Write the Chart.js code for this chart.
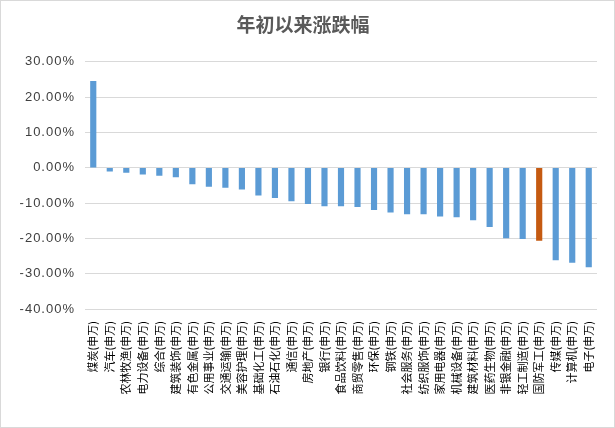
<!DOCTYPE html>
<html>
<head>
<meta charset="utf-8">
<script src="https://cdn.jsdelivr.net/npm/chart.js@4"></script>
<style>
  html, body { margin: 0; padding: 0; background: #fff; }
  #wrap { width: 613px; height: 426px; border: 1px solid #d9d9d9; }
</style>
</head>
<body>
<div id="wrap"><canvas id="ch" width="613" height="426"></canvas></div>
<script>
const titleText = '年初以来涨跌幅';
const industries = ['煤炭','汽车','农林牧渔','电力设备','综合','建筑装饰','有色金属','公用事业','交通运输','美容护理',
  '基础化工','石油石化','通信','房地产','银行','食品饮料','商贸零售','环保','钢铁','社会服务',
  '纺织服饰','家用电器','机械设备','建筑材料','医药生物','非银金融','轻工制造','国防军工','传媒','计算机','电子'];
const changePct = [24.5, -1.0, -1.3, -1.8, -2.2, -2.6, -4.6, -5.3, -5.6, -6.1,
  -7.8, -8.5, -9.4, -10.2, -10.8, -10.8, -11.0, -11.9, -12.6, -13.1,
  -13.1, -13.7, -13.9, -14.8, -16.7, -19.9, -20.1, -20.6, -26.1, -26.8, -28.1];
const highlight = '国防军工';
const yTicks = [30, 20, 10, 0, -10, -20, -30, -40];

const labels = industries.map(n => n + '(申万)');
const colors = industries.map(n => n === highlight ? '#C55A11' : '#5B9BD5');

const chart = new Chart(document.getElementById('ch'), {
  type: 'bar',
  data: { labels, datasets: [{ data: changePct, backgroundColor: colors, barThickness: 5.5 }] },
  options: {
    responsive: false,
    animation: false,
    layout: { padding: { left: 8, right: 17, top: 0, bottom: 4 } },
    plugins: {
      legend: { display: false },
      tooltip: { enabled: false },
      title: {
        display: true, text: titleText, color: '#595959',
        font: { family: '"Noto Sans CJK SC"', size: 19, weight: 'bold' },
        padding: { top: 12, bottom: 26 }
      }
    },
    scales: {
      x: {
        grid: { display: false },
        border: { display: false },
        ticks: {
          autoSkip: false, minRotation: 90, maxRotation: 90, padding: 4, color: '#000',
          font: { family: '"Noto Sans CJK SC"', size: 11 }
        },
        afterFit: s => { s.height = 114; }
      },
      y: {
        min: Math.min(...yTicks), max: Math.max(...yTicks),
        grid: { color: '#d9d9d9', drawTicks: false },
        border: { display: false },
        ticks: {
          stepSize: 10, padding: 10, color: '#404040',
          font: { family: '"Liberation Sans"', size: 13 },
          callback: v => v.toFixed(2) + '%'
        },
        afterFit: s => { s.width = 76; }
      }
    }
  }
});

// y tick labels in the reference are wide-spaced
const ys = chart.scales.y;
const baseDrawLabels = ys.drawLabels;
ys.drawLabels = function (area) {
  const ctx = this.ctx;
  ctx.save();
  ctx.letterSpacing = '1px';
  baseDrawLabels.call(this, area);
  ctx.restore();
};
chart.draw();
</script>
</body>
</html>
